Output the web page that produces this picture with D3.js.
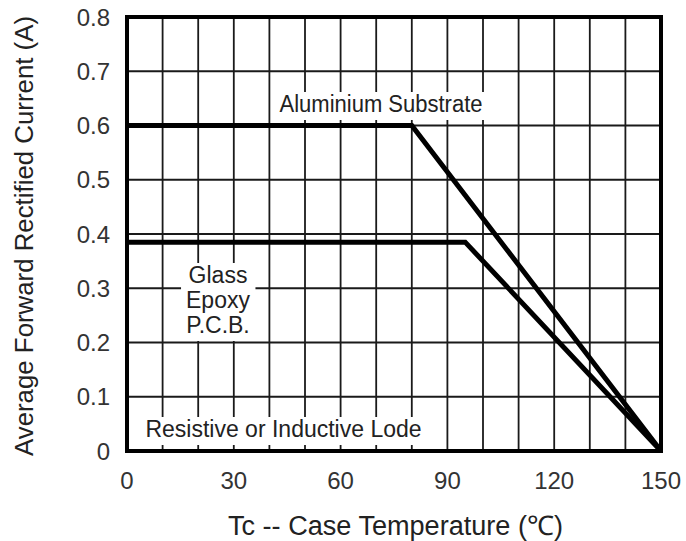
<!DOCTYPE html>
<html>
<head>
<meta charset="utf-8">
<script src="https://cdn.jsdelivr.net/npm/d3@7"></script>
<style>
  body { margin: 0; background: #fff; }
  text { font-family: "Liberation Sans", Arial, sans-serif; }
</style>
</head>
<body>
<svg id="chart" width="686" height="541"></svg>
<script>
// curve data
var aluminiumTemp = [0, 80, 150];
var aluminiumCurrent = [0.6, 0.6, 0];
var glassTemp = [0, 95, 150];
var glassCurrent = [0.385, 0.385, 0];
var xTicks = [0, 30, 60, 90, 120, 150];
var yTicks = [0, 0.1, 0.2, 0.3, 0.4, 0.5, 0.6, 0.7, 0.8];
var xGrid = d3.range(0, 151, 10);

var margin = {top: 17, right: 25, bottom: 90, left: 127},
    w = 686 - margin.left - margin.right,
    h = 541 - margin.top - margin.bottom;

var svg = d3.select("#chart");
var g = svg.append("g").attr("transform", "translate(" + margin.left + "," + margin.top + ")");

var x = d3.scaleLinear().domain([0, 150]).range([0, w]);
var y = d3.scaleLinear().domain([0, 0.8]).range([h, 0]);

// grid
g.selectAll(".vgrid").data(xGrid).enter().append("line")
  .attr("x1", d => x(d)).attr("x2", d => x(d))
  .attr("y1", 0).attr("y2", h)
  .attr("stroke", "#1a1a1a").attr("stroke-width", 1.8);
g.selectAll(".hgrid").data(yTicks).enter().append("line")
  .attr("x1", 0).attr("x2", w)
  .attr("y1", d => y(d)).attr("y2", d => y(d))
  .attr("stroke", "#1a1a1a").attr("stroke-width", 1.8);

// labels with white boxes behind them
function label(lines, cx, cy, lh, len) {
  var t = g.append("text")
    .attr("text-anchor", "middle")
    .attr("font-size", 23)
    .attr("fill", "#222");
  lines.forEach(function(s, i) {
    var ts = t.append("tspan").attr("x", cx).attr("y", cy + i * lh).text(s);
    if (len) ts.attr("textLength", len).attr("lengthAdjust", "spacingAndGlyphs");
  });
  var b = t.node().getBBox();
  g.insert("rect", function() { return t.node(); })
    .attr("x", b.x - 5).attr("y", b.y + 1)
    .attr("width", b.width + 10).attr("height", b.height + 2)
    .attr("fill", "#fff");
}
label(["Aluminium Substrate"], 254, 95, 0, 203);
label(["Glass", "Epoxy", "P.C.B."], 91, 266, 25);
label(["Resistive or Inductive Lode"], 156.5, 420, 0);

// curves
var line = d3.line().x(d => x(d[0])).y(d => y(d[1]));
[[aluminiumTemp, aluminiumCurrent], [glassTemp, glassCurrent]].forEach(function(s) {
  g.append("path")
    .datum(d3.zip(s[0], s[1]))
    .attr("d", line)
    .attr("fill", "none")
    .attr("stroke", "#000")
    .attr("stroke-width", 5)
    .attr("stroke-linejoin", "miter");
});

// frame
g.append("rect")
  .attr("x", 0).attr("y", 0).attr("width", w).attr("height", h)
  .attr("fill", "none").attr("stroke", "#000").attr("stroke-width", 4);

// tick labels
g.selectAll(".xt").data(xTicks).enter().append("text")
  .attr("x", d => x(d)).attr("y", h + 38)
  .attr("text-anchor", "middle").attr("font-size", 24).attr("fill", "#333")
  .text(d => d);
g.selectAll(".yt").data(yTicks).enter().append("text")
  .attr("x", -17).attr("y", d => y(d) + 8.5)
  .attr("text-anchor", "end").attr("font-size", 24).attr("fill", "#333")
  .text(d => d === 0 ? "0" : d.toFixed(1));

// axis titles
svg.append("text")
  .attr("x", 395.5).attr("y", 535)
  .attr("text-anchor", "middle").attr("font-size", 27).attr("fill", "#222")
  .attr("textLength", 335).attr("lengthAdjust", "spacingAndGlyphs")
  .text("Tc -- Case Temperature (\u2103)");
svg.append("text")
  .attr("transform", "translate(33,236) rotate(-90)")
  .attr("text-anchor", "middle").attr("font-size", 25).attr("fill", "#222")
  .attr("textLength", 440).attr("lengthAdjust", "spacingAndGlyphs")
  .text("Average Forward Rectified Current (A)");
</script>
</body>
</html>
